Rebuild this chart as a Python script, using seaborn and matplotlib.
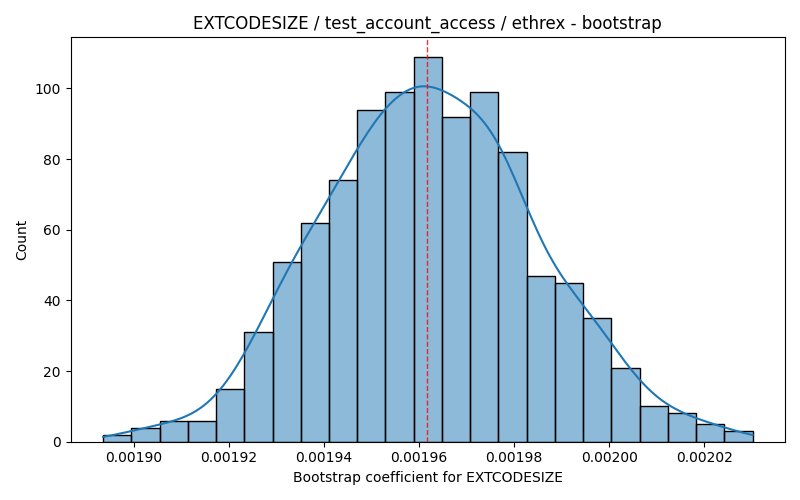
import numpy as np
import matplotlib
matplotlib.use("Agg")
import matplotlib.pyplot as plt
import seaborn as sns

# Histogram (23 bins, 1000 bootstrap draws)
bin_lo = 0.0018936
bin_hi = 0.0020301
counts = [2, 4, 6, 6, 15, 31, 51, 62, 74, 94, 99, 109, 92, 99, 82, 47, 45, 35, 21, 10, 8, 5, 3]
point_estimate = 0.0019616

n_bins = len(counts)
edges = np.linspace(bin_lo, bin_hi, n_bins + 1)
centers = (edges[:-1] + edges[1:]) / 2
samples = np.repeat(centers, counts)

# binned values make the kde a bit lumpy, widen it slightly
bw_adjust = 1.1
bw = samples.std(ddof=1) * len(samples) ** (-1 / 5) * bw_adjust
half_bin = (edges[1] - edges[0]) / 2

plt.figure(figsize=(8, 5))
ax = sns.histplot(samples, bins=n_bins, binrange=(bin_lo, bin_hi), kde=True,
                  kde_kws={"cut": half_bin / bw, "bw_adjust": bw_adjust})
ax.axvline(point_estimate, color="red", linestyle="--", linewidth=1, alpha=0.8)
plt.title("EXTCODESIZE / test_account_access / ethrex - bootstrap")
plt.xlabel("Bootstrap coefficient for EXTCODESIZE")
plt.ylabel("Count")
plt.tight_layout()
plt.savefig("out.png", dpi=100)
